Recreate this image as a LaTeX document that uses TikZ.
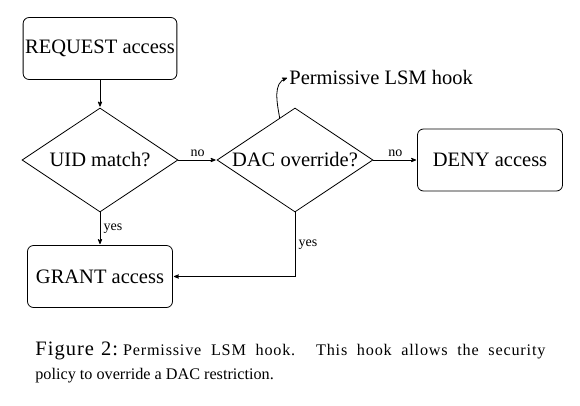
\documentclass[tikz,border=0pt]{standalone}
\usepackage{fontspec}
\setmainfont{Liberation Serif}
\newfontfamily\figfont[LetterSpace=5]{Liberation Serif}
\usetikzlibrary{arrows,shapes.geometric}

\tikzset{
  box/.style={draw,rounded corners=6pt,minimum width=145pt,minimum height=62pt,inner sep=2pt,font=\fontsize{20.5}{24}\selectfont},
  decision/.style={draw,diamond,aspect=1.5,inner sep=0pt,minimum width=156pt,minimum height=104pt,font=\fontsize{20.5}{24}\selectfont},
  lbl/.style={font=\fontsize{14}{16}\selectfont}
}

\begin{document}
\begin{tikzpicture}[->,>=stealth',shorten >=1pt,auto,node distance=195pt,line width=0.8pt,x=1pt,y=1pt]
    \useasboundingbox (-100,-245) rectangle (480,160);
    \node         (uid)   [decision]                  {UID match?};
    \node         (dac)   [decision, right of=uid]    {DAC override?};
    \node         (deny)  [box, right of=dac]         {DENY access};
    \node         (req)   [box, above of=uid, node distance=111.5pt] {REQUEST access};
    \node         (grant) [box, below of=uid, node distance=116.5pt] {GRANT access};
    \node         (hook)  [anchor=west, inner sep=1pt, font=\fontsize{20.5}{24}\selectfont] at ([xshift=-7pt,yshift=30pt]dac.north) {Permissive LSM hook};

    \path (req) edge (uid);
    \path (uid) edge node [lbl] {no} (dac);
    \path (dac) edge node [lbl] {no} (deny);
    \path (uid) edge node [lbl] {yes} (grant);
    \draw (dac.south) |- node [lbl, pos=0.25] {yes} (grant.east);
    \draw (dac.110) to [out=100,in=200] (hook.west);

    % caption, first line broken by hand
    \node (caption) [anchor=north west, text width=510pt, align=justify, inner sep=0pt, font=\fontsize{16.2}{24}\selectfont] at (-65,-182)
      {{\figfont\fontsize{20.5}{24}\selectfont Figure\hspace{7pt}2:}\hspace{5pt}{\figfont Permissive LSM hook.  This hook allows the security}\linebreak policy to override a DAC restriction.};
  \end{tikzpicture}
\end{document}
